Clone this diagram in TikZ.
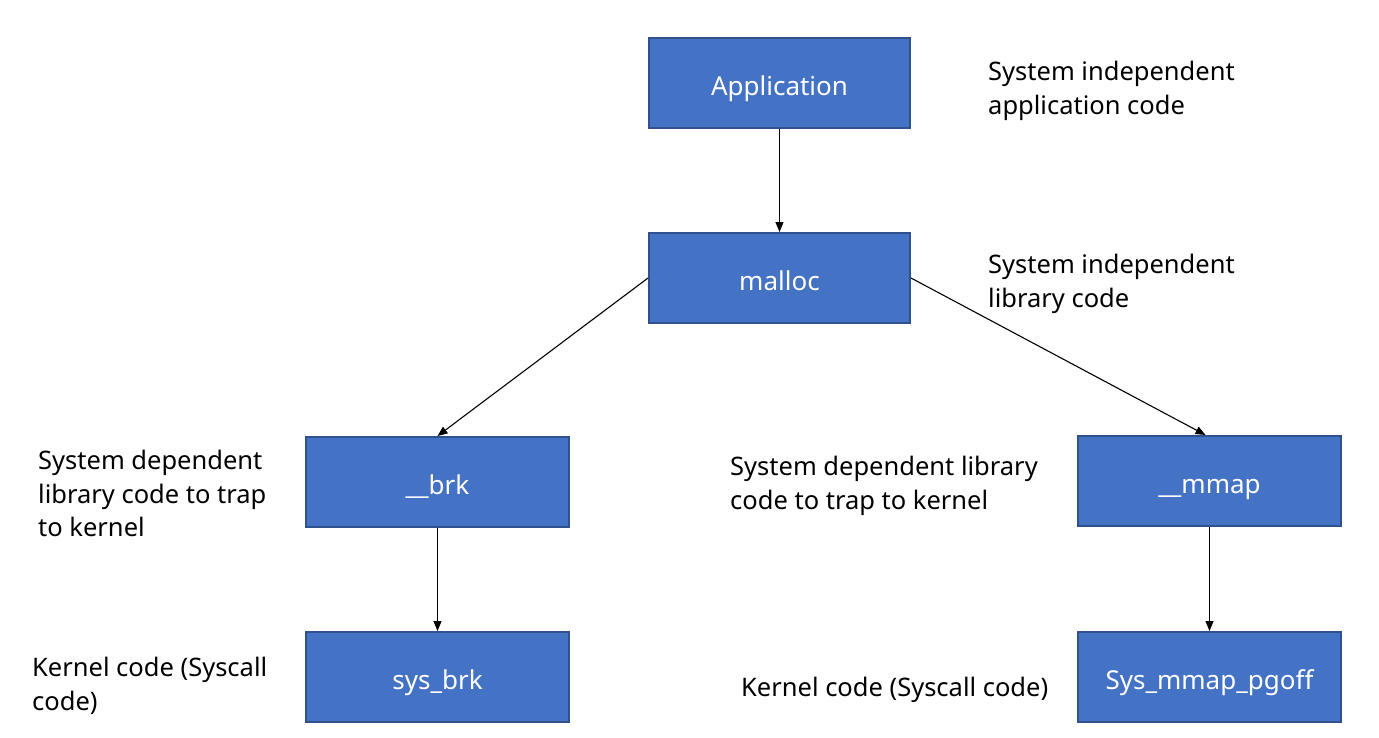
\documentclass[tikz,border=0pt]{standalone}
\usepackage{fontspec}
\setmainfont{Noto Sans}
\usetikzlibrary{arrows.meta}
\definecolor{boxfill}{HTML}{4472C4}
\definecolor{boxline}{HTML}{2F528F}
\begin{document}
\begin{tikzpicture}[x=1pt,y=-1pt,
  blockbox/.style={draw=boxline,fill=boxfill,line width=2pt,minimum width=261pt,minimum height=90pt,inner sep=0pt,text=white,text height=30pt,text depth=5pt,font=\fontsize{26}{33}\selectfont},
  wideblock/.style={blockbox,minimum width=263pt},
  note/.style={anchor=north west,align=left,inner sep=0pt,font=\fontsize{25.5}{33.5}\selectfont},
  link/.style={line width=1.1pt,-{Triangle[length=10pt,width=8pt]}}]
\useasboundingbox (0,0) rectangle (1379,737);
\node[blockbox] (app) at (779.5,83) {Application};
\node[blockbox] (malloc) at (779.5,278) {malloc};
\node[wideblock] (brk) at (437.5,482) {\_\_brk};
\node[wideblock] (mmap) at (1209.5,481) {\_\_mmap};
\node[wideblock] (sysbrk) at (437.5,677) {sys\_brk};
\node[wideblock] (sysmmap) at (1209.5,677) {Sys\_mmap\_pgoff};
\node[note] (n1) at (988,61) {System independent\\application code};
\node[note] (n2) at (988,254) {System independent\\library code};
\node[note] (n3) at (38,450) {System dependent\\library code to trap\\to kernel};
\node[note] (n4) at (730,456) {System dependent library\\code to trap to kernel};
\node[note] (n5) at (32,657) {Kernel code (Syscall\\code)};
\node[note] (n6) at (741,677) {Kernel code (Syscall code)};
\draw[link] (app.south) -- (malloc.north);
\draw[link] (malloc.west) -- (brk.north);
\draw[link] (malloc.east) -- ([xshift=-4pt]mmap.north);
\draw[link] (brk.south) -- (sysbrk.north);
\draw[link] (mmap.south) -- (sysmmap.north);
\end{tikzpicture}
\end{document}
